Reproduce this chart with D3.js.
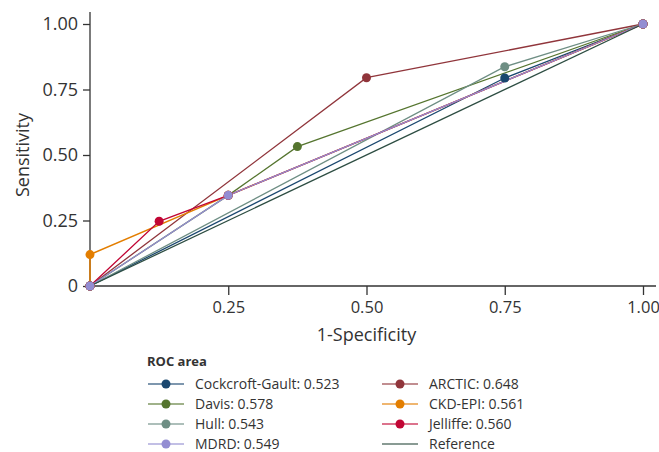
<!DOCTYPE html>
<html lang="en">
    <head>
        <title>ROC curves</title>
        <style>
            body { margin: 0; background: #fff; }
            svg text { font-family: "Open Sans", "Noto Sans", sans-serif; fill: #333; }
        </style>
    </head>
    <body>
        <script src="https://cdn.jsdelivr.net/npm/d3@7"></script>
        <svg id="chart"></svg>
        <script>
            const width = 659;
            const height = 452;

            // series in legend order (row by row)
            const names = ["Cockcroft-Gault", "ARCTIC", "Davis", "CKD-EPI", "Hull", "Jelliffe", "MDRD", "Reference"];
            const areas = ["0.523", "0.648", "0.578", "0.561", "0.543", "0.560", "0.549", null];
            const colors = ["#1a476f", "#90353b", "#55752f", "#e37e00", "#6e8e84", "#c10534", "#938dd2", "#2d4d42"];
            // 1-specificity / sensitivity points per series
            const fprs = [
                [0, 0.75, 1],
                [0, 0.5, 1],
                [0, 0.25, 0.375, 1],
                [0, 0, 0.25, 1],
                [0, 0.75, 1],
                [0, 0.125, 0.25, 1],
                [0, 0.25, 1],
                [0, 1]
            ];
            const tprs = [
                [0, 0.794, 1],
                [0, 0.795, 1],
                [0, 0.346, 0.532, 1],
                [0, 0.12, 0.346, 1],
                [0, 0.837, 1],
                [0, 0.247, 0.346, 1],
                [0, 0.346, 1],
                [0, 1]
            ];
            const xTicks = [0.25, 0.5, 0.75, 1];
            const yTicks = [0, 0.25, 0.5, 0.75, 1];

            const svg = d3.select("#chart")
                .attr("width", width)
                .attr("height", height)

            const x = d3.scaleLinear().domain([0, 1]).range([90, 643]);
            const y = d3.scaleLinear().domain([0, 1]).range([286, 24]);

            const fmt = d => d === 0 ? "0" : d3.format(".2f")(d);

            // axes
            const xAxis = svg.append("g")
                .attr("transform", `translate(0,${y(0)})`)
                .call(d3.axisBottom(x).tickValues(xTicks).tickFormat(fmt).tickSize(9).tickSizeOuter(0).tickPadding(6))
            xAxis.select(".domain").attr("d", `M${x(0)},0H656`)

            const yAxis = svg.append("g")
                .attr("transform", `translate(${x(0)},0)`)
                .call(d3.axisLeft(y).tickValues(yTicks).tickFormat(fmt).tickSize(7).tickSizeOuter(0).tickPadding(5))
            yAxis.select(".domain").attr("d", `M0,${y(0)}V12`)

            svg.selectAll(".domain, .tick line").attr("stroke", "#333").attr("stroke-width", 1.3)
            yAxis.selectAll(".tick text").attr("font-size", 18).attr("fill", "#333")
            xAxis.selectAll(".tick text").attr("font-size", 16.5).attr("fill", "#333")

            svg.append("text")
                .attr("x", x(0.5))
                .attr("y", 341)
                .attr("text-anchor", "middle")
                .attr("font-size", 18)
                .text("1-Specificity")

            svg.append("text")
                .attr("transform", `translate(29,${y(0.5)}) rotate(-90)`)
                .attr("text-anchor", "middle")
                .attr("font-size", 18)
                .text("Sensitivity")

            // curves
            const series = names.map((n, i) => ({
                name: n, color: colors[i],
                pts: fprs[i].map((f, j) => [f, tprs[i][j]])
            }));
            const line = d3.line().x(d => x(d[0])).y(d => y(d[1]));

            series.forEach((s, i) => {
                svg.append("path")
                    .datum(s.pts)
                    .attr("d", line)
                    .attr("fill", "none")
                    .attr("stroke", s.color)
                    .attr("stroke-width", i === 3 ? 1.5 : 1.3)
            })
            series.forEach((s, i) => {
                if (s.name === "Reference") return;
                svg.selectAll(null)
                    .data(s.pts)
                    .enter()
                    .append("circle")
                    .attr("cx", d => x(d[0]))
                    .attr("cy", d => y(d[1]))
                    .attr("r", 4.5)
                    .attr("fill", s.color)
            })

            // legend
            const legend = svg.append("g");
            legend.append("text")
                .attr("x", 147)
                .attr("y", 366)
                .attr("font-size", 13)
                .attr("font-weight", "bold")
                .text("ROC area")

            const items = legend.selectAll("g.item")
                .data(series)
                .enter()
                .append("g")
                .attr("class", "item")
                .attr("transform", (d, i) => `translate(${i % 2 === 0 ? 148 : 382},${384 + Math.floor(i / 2) * 20})`)
            items.append("line")
                .attr("x1", 0).attr("x2", 36)
                .attr("stroke", d => d.color)
                .attr("stroke-opacity", 0.75)
                .attr("stroke-width", 1.6)
            items.filter(d => d.name !== "Reference")
                .append("circle")
                .attr("cx", 18)
                .attr("r", 4.5)
                .attr("fill", d => d.color)
            items.append("text")
                .attr("x", 47)
                .attr("y", 5)
                .attr("font-size", 14)
                .text((d, i) => areas[i] ? `${d.name}: ${areas[i]}` : d.name)
        </script>
    </body>
</html>
